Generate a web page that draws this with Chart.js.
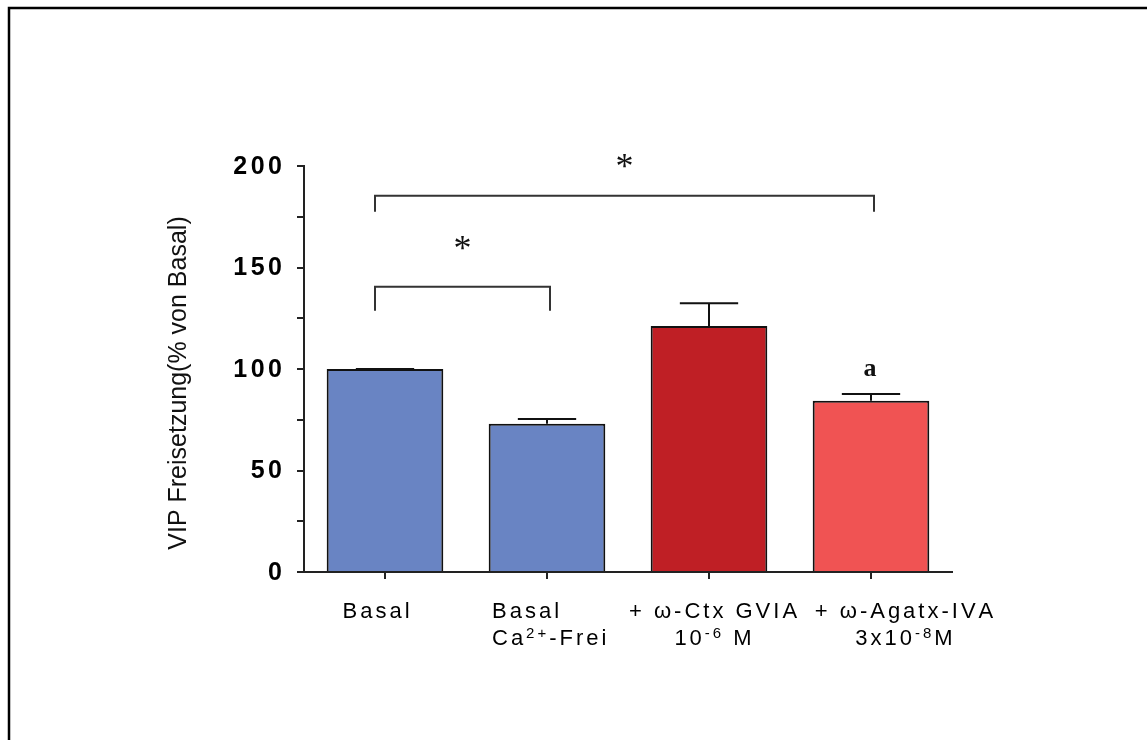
<!DOCTYPE html>
<html>
<head>
<meta charset="utf-8">
<script src="https://cdn.jsdelivr.net/npm/chart.js@4.4.1/dist/chart.umd.min.js"></script>
<style>
  html, body { margin: 0; padding: 0; background: #fff; }
  #wrap { width: 1147px; height: 740px; position: relative; }
</style>
</head>
<body>
<div id="wrap"><canvas id="c" width="1147" height="740"></canvas></div>
<script>
// Category labels (one entry per line, ^{...} marks superscript)
const categories = [
  ['Basal'],
  ['Basal', 'Ca^{2+}-Frei'],
  ['+ ω-Ctx GVIA', '10^{-6} M'],
  ['+ ω-Agatx-IVA', '3x10^{-8}M']
];
// VIP release, % of basal (mean and SEM)
const meanRelease = [100, 73, 121.2, 84.4];
const semRelease = [0, 2.4, 11.2, 3.3];
// Letter marks above individual bars
const barMarks = ['', '', '', 'a'];
// Significance comparisons between categories
const comparisons = [[0, 1], [0, 3]];
const comparisonMarks = ['*', '*'];
// Y axis
const yLabelTicks = [0, 50, 100, 150, 200];
const yTitle = 'VIP Freisetzung(% von Basal)';

const barColors = ['#6984C3', '#6984C3', '#BF1F25', '#F05353'];
const SANS = '"Liberation Sans", Arial, sans-serif';
const SERIF = '"Liberation Serif", "Times New Roman", serif';

function parseRich(str) {
  const segs = [];
  const re = /\^\{([^}]*)\}/g;
  let last = 0, m;
  while ((m = re.exec(str)) !== null) {
    if (m.index > last) segs.push({ t: str.slice(last, m.index), sup: false });
    segs.push({ t: m[1], sup: true });
    last = re.lastIndex;
  }
  if (last < str.length) segs.push({ t: str.slice(last), sup: false });
  return segs;
}

// Draws text character by character with extra tracking; superscripts smaller and raised
function drawSpaced(ctx, str, x, y, opt) {
  const segs = parseRich(str);
  const chars = [];
  segs.forEach(s => { for (const ch of s.t) chars.push({ ch, sup: s.sup }); });
  let total = 0;
  chars.forEach((c, i) => {
    ctx.font = c.sup ? opt.supFont : opt.font;
    c.w = ctx.measureText(c.ch).width;
    total += c.w + (i < chars.length - 1 ? opt.ls : 0);
  });
  let cx = x;
  if (opt.align === 'center') cx = x - total / 2;
  else if (opt.align === 'right') cx = x - total;
  ctx.textAlign = 'left';
  ctx.textBaseline = opt.baseline || 'alphabetic';
  chars.forEach(c => {
    ctx.font = c.sup ? opt.supFont : opt.font;
    ctx.fillText(c.ch, cx, c.sup ? y - opt.supRise : y);
    cx += c.w + opt.ls;
  });
}

function drawCentered(ctx, text, x, cy, font) {
  ctx.font = font;
  const m = ctx.measureText(text);
  const h = m.actualBoundingBoxAscent + m.actualBoundingBoxDescent;
  const wl = m.actualBoundingBoxLeft, wr = m.actualBoundingBoxRight;
  ctx.textAlign = 'left';
  ctx.textBaseline = 'alphabetic';
  ctx.fillText(text, x - (wl + wr) / 2 + wl, cy - h / 2 + m.actualBoundingBoxAscent);
}

const decor = {
  id: 'decor',
  beforeDraw(chart) {
    const ctx = chart.ctx;
    ctx.save();
    ctx.fillStyle = '#fff';
    ctx.fillRect(0, 0, chart.width, chart.height);
    // page frame
    ctx.strokeStyle = '#000';
    ctx.lineWidth = 2.5;
    ctx.beginPath();
    ctx.moveTo(9, chart.height + 2);
    ctx.lineTo(9, 8);
    ctx.lineTo(chart.width + 2, 8);
    ctx.stroke();
    ctx.restore();
  },
  afterDatasetsDraw(chart) {
    const ctx = chart.ctx;
    const x = chart.scales.x, y = chart.scales.y;
    const meta = chart.getDatasetMeta(0);
    ctx.save();
    ctx.strokeStyle = '#111';
    ctx.lineWidth = 2;
    meta.data.forEach((bar, i) => {
      const cx = x.getPixelForValue(i);
      const top = y.getPixelForValue(meanRelease[i]);
      const hi = y.getPixelForValue(meanRelease[i] + semRelease[i]);
      const capHalf = bar.width * 0.25;
      ctx.beginPath();
      ctx.moveTo(cx, top);
      ctx.lineTo(cx, hi);
      ctx.moveTo(cx - capHalf, hi);
      ctx.lineTo(cx + capHalf, hi);
      ctx.stroke();
      if (barMarks[i]) {
        ctx.fillStyle = '#111';
        drawCentered(ctx, barMarks[i], cx - 1, hi - 24, 'bold 26px ' + SERIF);
      }
    });
    // significance brackets
    const levels = [[140.5, 128.7, 162], [185.4, 177.5, 202.5]];
    ctx.strokeStyle = '#333';
    ctx.lineWidth = 2;
    comparisons.forEach((pair, k) => {
      const [barY, legY, markY] = levels[k];
      const x0 = x.getPixelForValue(pair[0]) - 10;
      const x1 = x.getPixelForValue(pair[1]) + 3;
      const py = y.getPixelForValue(barY);
      const pl = y.getPixelForValue(legY);
      ctx.beginPath();
      ctx.moveTo(x0, pl);
      ctx.lineTo(x0, py);
      ctx.lineTo(x1, py);
      ctx.lineTo(x1, pl);
      ctx.stroke();
      ctx.fillStyle = '#111';
      drawCentered(ctx, comparisonMarks[k], (x0 + x1) / 2, y.getPixelForValue(markY), '36px ' + SERIF);
    });
    ctx.restore();
  },
  afterDraw(chart) {
    const ctx = chart.ctx;
    const x = chart.scales.x, y = chart.scales.y;
    ctx.save();
    ctx.fillStyle = '#000';
    // y tick labels
    yLabelTicks.forEach(v => {
      drawSpaced(ctx, String(v), y.right - 22, y.getPixelForValue(v) + 1, {
        font: 'bold 25px ' + SANS, supFont: 'bold 14px ' + SANS, ls: 3.5, supRise: 8,
        align: 'right', baseline: 'middle'
      });
    });
    // y title
    ctx.save();
    ctx.translate(179, 383);
    ctx.rotate(-Math.PI / 2);
    ctx.font = '25px ' + SANS;
    ctx.textAlign = 'center';
    ctx.textBaseline = 'middle';
    ctx.fillStyle = '#111';
    ctx.fillText(yTitle, 0, 0);
    ctx.restore();
    // x category labels
    const anchors = [
      { dx: -9, align: 'center' },
      { dx: -55, align: 'left' },
      { dx: 4, align: 'center' },
      { dx: 33, align: 'center' }
    ];
    ctx.fillStyle = '#000';
    categories.forEach((lines, i) => {
      const px = x.getPixelForValue(i) + anchors[i].dx;
      lines.forEach((ln, j) => {
        drawSpaced(ctx, ln, px, chart.chartArea.bottom + 46 + j * 27, {
          font: '22px ' + SANS, supFont: '15px ' + SANS, ls: 3, supRise: 7,
          align: anchors[i].align
        });
      });
    });
    ctx.restore();
  }
};

new Chart(document.getElementById('c').getContext('2d'), {
  type: 'bar',
  data: {
    labels: categories.map(c => c.join(' ')),
    datasets: [{
      data: meanRelease,
      backgroundColor: barColors,
      borderColor: '#111',
      borderWidth: 2,
      borderSkipped: 'start',
      barPercentage: 0.72,
      categoryPercentage: 1
    }]
  },
  options: {
    responsive: false,
    animation: false,
    devicePixelRatio: 1,
    layout: { padding: { left: 0, top: 166, right: 195, bottom: 0 } },
    plugins: { legend: { display: false }, tooltip: { enabled: false } },
    scales: {
      x: {
        offset: true,
        grid: { drawOnChartArea: false, offset: false, tickLength: 7, color: '#222', lineWidth: 2 },
        border: { display: true, color: '#222', width: 2 },
        ticks: { callback: () => '', autoSkip: false },
        afterFit: s => { s.height = 168; }
      },
      y: {
        min: 0, max: 200,
        ticks: { stepSize: 25, callback: () => '' },
        grid: { drawOnChartArea: false, tickLength: 7, color: '#222', lineWidth: 2 },
        border: { display: true, color: '#222', width: 2 },
        afterFit: s => { s.width = 304; }
      }
    }
  },
  plugins: [decor]
});
</script>
</body>
</html>
